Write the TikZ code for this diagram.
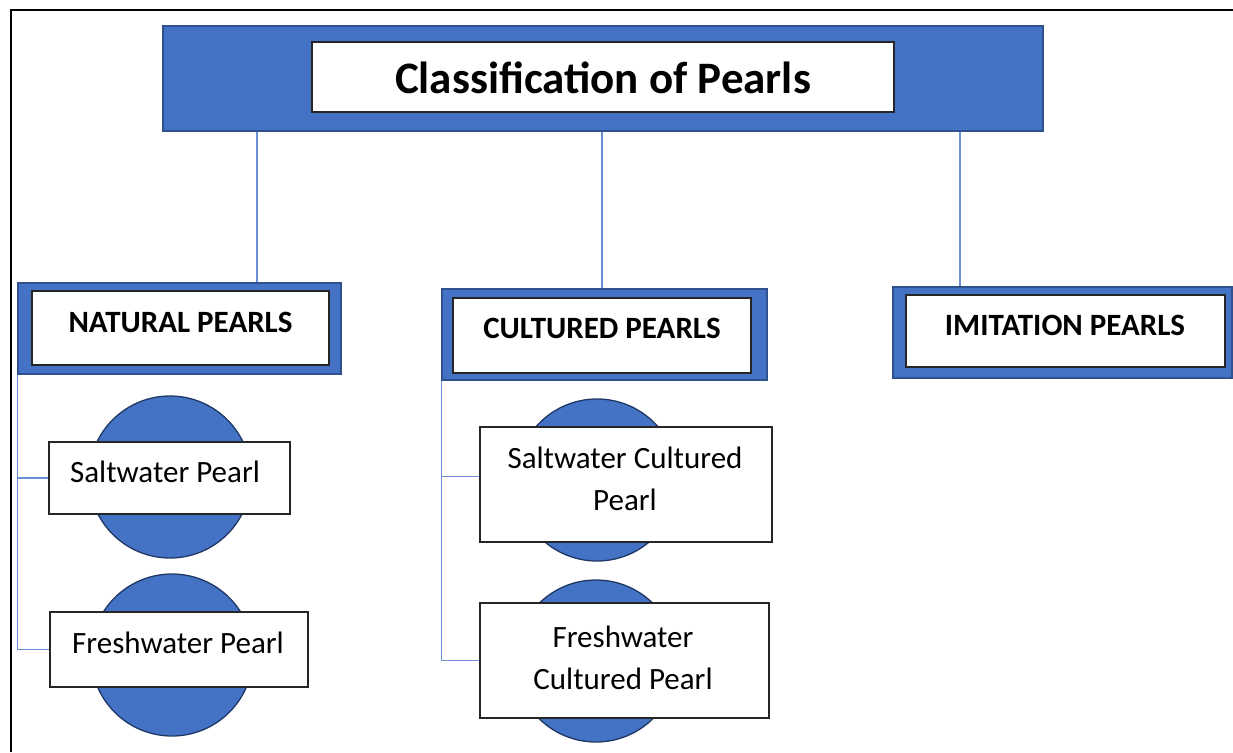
\documentclass[tikz,border=0pt]{standalone}
\usepackage{fontspec}
\setmainfont{Carlito}
\definecolor{pblue}{HTML}{4472C4}
\definecolor{bordblue}{HTML}{2F528F}
\definecolor{navy}{HTML}{203864}
\definecolor{linkblue}{HTML}{6A8FD8}
\begin{document}
\begin{tikzpicture}[x=1pt,y=-1pt,
  bluebox/.style={rectangle, draw=bordblue, fill=pblue, line width=1.2pt, inner sep=0pt},
  whitebox/.style={rectangle, draw=black!85, fill=white, line width=1.2pt, inner sep=0pt},
  pearl/.style={circle, draw=navy, fill=pblue, line width=1.3pt, minimum size=162pt, inner sep=0pt},
  link/.style={draw=linkblue, line width=1.1pt},
  titletext/.style={font=\fontsize{45}{50}\selectfont\bfseries, inner sep=0pt},
  cattext/.style={font=\fontsize{31}{36}\selectfont\bfseries, inner sep=0pt},
  itemtext/.style={font=\fontsize{31}{42}\selectfont, align=center, inner sep=0pt}]
\useasboundingbox (0,0) rectangle (1233,752);
\fill[white] (0,0) rectangle (1233,752);
\draw[line width=2.2pt] (11,752) -- (11,10) -- (1233,10);

% title
\node[bluebox, minimum width=880pt, minimum height=105pt] (titleout) at (603,78.5) {};
\node[whitebox, minimum width=582pt, minimum height=70pt] (titlein) at (603,77) {};
\node[titletext] (titlet) at (603,78) {Classification of Pearls};

% categories
\node[bluebox, minimum width=323pt, minimum height=91pt] (natout) at (179.5,328.5) {};
\node[whitebox, minimum width=297pt, minimum height=74pt] (natin) at (180.5,328) {};
\node[cattext] (natt) at (180.5,322) {NATURAL PEARLS};

\node[bluebox, minimum width=325pt, minimum height=91pt] (cultout) at (604.5,334.5) {};
\node[whitebox, minimum width=298pt, minimum height=75pt] (cultin) at (602,335.5) {};
\node[cattext] (cultt) at (602,328) {CULTURED PEARLS};

\node[bluebox, minimum width=339pt, minimum height=91pt] (imitout) at (1062.5,332.5) {};
\node[whitebox, minimum width=319pt, minimum height=72pt] (imitin) at (1065.5,331) {};
\node[cattext] (imitt) at (1065,325) {IMITATION PEARLS};

% top connectors
\coordinate (xa) at (257,0);
\coordinate (xb) at (602,0);
\coordinate (xc) at (960,0);
\draw[link] (titleout.south -| xa) -- (natout.north -| xa);
\draw[link] (titleout.south -| xb) -- (cultout.north -| xb);
\draw[link] (titleout.south -| xc) -- (imitout.north -| xc);

% pearls
\node[pearl] (p1) at (170,477) {};
\node[pearl] (p2) at (172,655) {};
\node[pearl] (p3) at (597,480) {};
\node[pearl] (p4) at (596,661) {};

\node[whitebox, minimum width=241pt, minimum height=72pt] (s1) at (169.5,478) {};
\node[itemtext] (s1t) at (165,472) {Saltwater Pearl};
\node[whitebox, minimum width=258pt, minimum height=75pt] (f1) at (179,649.5) {};
\node[itemtext] (f1t) at (178,643) {Freshwater Pearl};
\node[whitebox, minimum width=292pt, minimum height=115pt] (s2) at (626,484.5) {};
\node[itemtext] (s2t) at (625,479) {Saltwater Cultured\\Pearl};
\node[whitebox, minimum width=289pt, minimum height=115pt] (f2) at (624.5,660.5) {};
\node[itemtext] (f2t) at (623,657.5) {Freshwater\\Cultured Pearl};

% branch connectors
\draw[link] (natout.south west) -- (natout.south west |- f1.west) -- (f1.west);
\draw[link] (natout.south west |- s1.west) -- (s1.west);
\coordinate (s2j) at ([yshift=8pt]s2.west);
\draw[link] (cultout.south west) -- (cultout.south west |- f2.west) -- (f2.west);
\draw[link] (cultout.south west |- s2j) -- (s2j);
\end{tikzpicture}
\end{document}
